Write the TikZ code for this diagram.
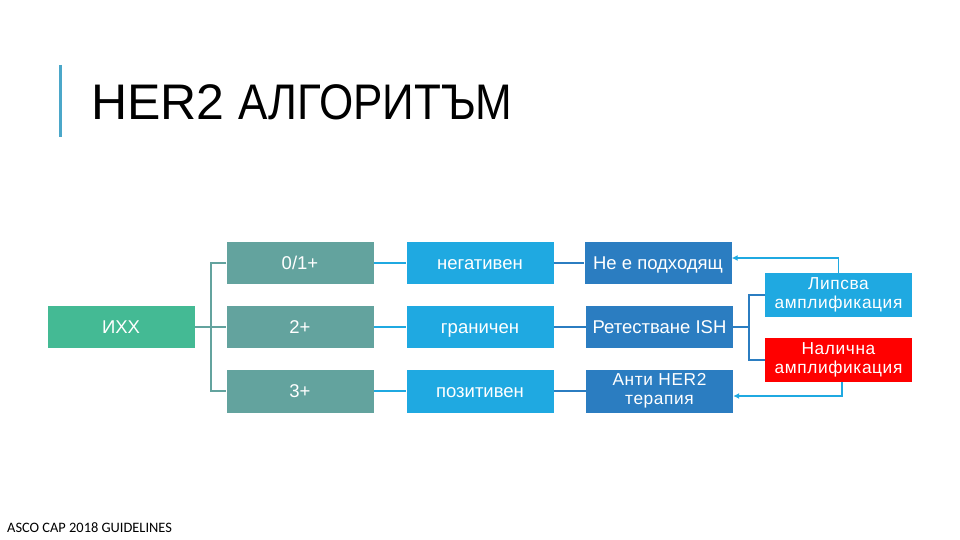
\documentclass[tikz,border=0pt]{standalone}
\usepackage{fontspec}
\setmainfont{Liberation Sans}
\newfontfamily\footfont{Carlito}
\newfontfamily\spacedfont[LetterSpace=3.5]{Liberation Sans}
\usetikzlibrary{arrows.meta}
\definecolor{ihhgreen}{HTML}{44BA94}
\definecolor{tealbox}{HTML}{63A39E}
\definecolor{lightblue}{HTML}{1FA9E1}
\definecolor{darkblue}{HTML}{2B7DC1}
\definecolor{redbox}{HTML}{FF0000}
\definecolor{barblue}{HTML}{4BA7C9}
\tikzset{
  boxbase/.style={rectangle, inner sep=0pt, minimum width=147pt, minimum height=42pt, text=white},
  oneline/.style={boxbase, font=\fontsize{18.5}{20}\selectfont, text height=13.3pt, text depth=0pt},
  twoline/.style={boxbase, align=center, font=\spacedfont\fontsize{17.3}{19}\selectfont},
  greenbox/.style={oneline, fill=ihhgreen},
  tbox/.style={oneline, fill=tealbox},
  lbox/.style={oneline, fill=lightblue},
  dbox/.style={oneline, fill=darkblue},
  dboxtwo/.style={twoline, fill=darkblue},
  lboxtwo/.style={twoline, fill=lightblue},
  rboxtwo/.style={twoline, fill=redbox},
  tline/.style={draw=tealbox, line width=1.9pt},
  lline/.style={draw=lightblue, line width=1.9pt},
  dline/.style={draw=darkblue, line width=1.9pt},
  arr/.style={draw=lightblue, line width=1.9pt, -{Latex[length=6pt,width=6pt]}}
}
\begin{document}
\begin{tikzpicture}[x=1pt,y=-1pt]
\useasboundingbox (0,0) rectangle (960,540);
% title
\draw[barblue, line width=3pt] (60.5,65) -- (60.5,137);
\node[anchor=base west, inner sep=0pt] (title) at (91,120)
  {\fontsize{50}{60}\selectfont HER2 \scalebox{0.88}[1]{АЛГОРИТЪМ}};
% boxes
\node[greenbox] (ihh) at (121,327) {ИХХ};
\node[tbox] (b01) at (300,263) {0/1+};
\node[tbox] (b2) at (300,327) {2+};
\node[tbox, minimum height=43pt] (b3) at (300,391) {3+};
\node[lbox] (neg) at (480,263) {негативен};
\node[lbox] (gra) at (480,327) {граничен};
\node[lbox, minimum height=43pt] (poz) at (480,391) {позитивен};
\node[dbox] (nep) at (658,263) {Не е подходящ};
\node[dbox] (ret) at (659.5,327) {Ретестване ISH};
\node[dboxtwo, minimum height=43pt] (anti) at (659.5,391) {Анти HER2\\терапия};
\node[lboxtwo, minimum height=44pt] (lip) at (838.5,295) {Липсва\\амплификация};
\node[rboxtwo, minimum height=44pt] (nal) at (838.5,360) {Налична\\амплификация};
% connectors
\coordinate (br) at (211,327);
\draw[tline] (ihh.east) -- (b2.west);
\draw[tline] (b01.west) -| (br) |- (b3.west);
\draw[lline] (b01.east) -- (neg.west);
\draw[lline] (b2.east) -- (gra.west);
\draw[lline] (b3.east) -- (poz.west);
\draw[dline] (neg.east) -- (nep.west);
\draw[dline] (gra.east) -- (ret.west);
\draw[dline] (poz.east) -- (anti.west);
\coordinate (br2) at (749,327);
\draw[dline] (ret.east) -- (br2);
\draw[dline] (lip.west) -| (br2) |- (nal.west);
\draw[arr] (lip.north) |- ([yshift=5pt]nep.east);
\draw[arr] ([xshift=3.5pt]nal.south) |- ([yshift=-5pt]anti.east);
% footer
\node[anchor=base west, inner sep=0pt, font=\footfont\fontsize{14.4}{16}\selectfont] (foot) at (7,532) {ASCO CAP 2018 GUIDELINES};
\end{tikzpicture}
\end{document}
